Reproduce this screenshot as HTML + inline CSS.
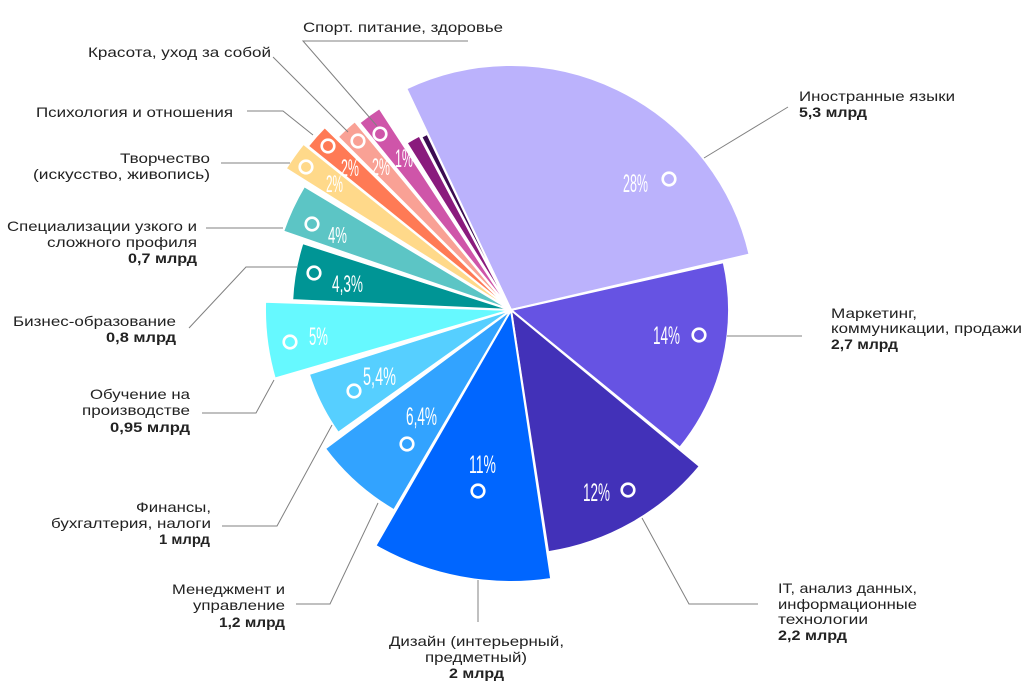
<!DOCTYPE html>
<html>
<head>
<meta charset="utf-8">
<style>
  html, body { margin: 0; padding: 0; background: #ffffff; }
  svg { display: block; }
  .lbl { font-family: "Liberation Sans", "Noto Sans CJK SC", sans-serif; font-size: 14px; fill: #222222; }
  .b { font-weight: bold; }
  .pct { font-family: "Liberation Sans", "Noto Sans CJK SC", sans-serif; font-size: 25px; fill: #ffffff; }
  .ld { stroke: #808080; stroke-width: 1; fill: none; }
  .ring { fill: none; stroke: #ffffff; stroke-width: 2.6; }
</style>
</head>
<body>
<svg width="1029" height="692" viewBox="0 0 1029 692" xmlns="http://www.w3.org/2000/svg">
  <rect width="1029" height="692" fill="#ffffff"/>

  <!-- sectors -->
  <g stroke="#ffffff" stroke-width="2" stroke-linejoin="round">
    <path d="M511,310 L406.3,88.5 A245,245 0 0 1 749.6,254.5 Z" fill="#BBB2FC"/>
    <path d="M511,310 L723.7,262.1 A218,218 0 0 1 679.9,447.8 Z" fill="#6653E3"/>
    <path d="M511,310 L699.8,466.2 A245,245 0 0 1 548.1,552.2 Z" fill="#4231B8"/>
    <path d="M511,310 L551.2,579.0 A272,272 0 0 1 375.4,545.8 Z" fill="#0066FF"/>
    <path d="M511,310 L394.0,510.3 A232,232 0 0 1 325.0,448.6 Z" fill="#32A3FF"/>
    <path d="M511,310 L338.2,432.8 A212,212 0 0 1 308.9,374.1 Z" fill="#56CFFF"/>
    <path d="M511,310 L274.8,378.6 A246,246 0 0 1 265.1,301.8 Z" fill="#66F9FF"/>
    <path d="M511,310 L292.2,300.1 A219,219 0 0 1 302.5,243.1 Z" fill="#009595"/>
    <path d="M511,310 L283.1,231.5 A241,241 0 0 1 304.2,186.2 Z" fill="#5CC5C5"/>
    <path d="M511,310 L285.7,168.6 A266,266 0 0 1 303.4,143.7 Z" fill="#FFD98A"/>
    <path d="M511,310 L307.9,146.1 A261,261 0 0 1 324.8,127.1 Z" fill="#FF7A55"/>
    <path d="M511,310 L337.8,136.8 A245,245 0 0 1 354.8,121.2 Z" fill="#F9A195"/>
    <path d="M511,310 L359.3,122.7 A241,241 0 0 1 379.4,108.1 Z" fill="#CF55A9"/>
    <path d="M511,310 L406.6,142.9 A197,197 0 0 1 419.4,135.6 Z" fill="#8A1B7D"/>
    <path d="M511,310 L421.3,136.9 A195,195 0 0 1 427.4,133.9 Z" fill="#3C0C51"/>
  </g>

  <!-- leader lines -->
  <polyline class="ld" points="788,107 704,158"/>
  <polyline class="ld" points="727,336 802,336"/>
  <polyline class="ld" points="642,518 689,604 758,604"/>
  <polyline class="ld" points="478,580 478,622"/>
  <polyline class="ld" points="378,503 330,604 296,604"/>
  <polyline class="ld" points="332,425 277,526 222,526"/>
  <polyline class="ld" points="274,380 256,413 202,413"/>
  <polyline class="ld" points="297,267 246,267 189,328"/>
  <polyline class="ld" points="206,228 283,228"/>
  <polyline class="ld" points="221,163 290,163"/>
  <polyline class="ld" points="247,111 283,111 313,135"/>
  <polyline class="ld" points="273,57 348,132"/>
  <polyline class="ld" points="468,41 303,41 377,126"/>

  <!-- rings -->
  <circle class="ring" cx="669" cy="179" r="6.3"/>
  <circle class="ring" cx="699" cy="335" r="6.3"/>
  <circle class="ring" cx="628" cy="490" r="6.3"/>
  <circle class="ring" cx="478" cy="491" r="6.3"/>
  <circle class="ring" cx="407" cy="444" r="6.3"/>
  <circle class="ring" cx="354" cy="391" r="6.3"/>
  <circle class="ring" cx="290" cy="342" r="6.3"/>
  <circle class="ring" cx="314" cy="273" r="6.3"/>
  <circle class="ring" cx="312" cy="224" r="6.3"/>
  <circle class="ring" cx="306" cy="167" r="6.3"/>
  <circle class="ring" cx="328" cy="146" r="6.3"/>
  <circle class="ring" cx="358" cy="141" r="6.3"/>
  <circle class="ring" cx="380" cy="134" r="6.3"/>

  <!-- percentages -->
  <text class="pct" x="623" y="192" textLength="25" lengthAdjust="spacingAndGlyphs">28%</text>
  <text class="pct" x="653" y="344" textLength="27" lengthAdjust="spacingAndGlyphs">14%</text>
  <text class="pct" x="583" y="501" textLength="27" lengthAdjust="spacingAndGlyphs">12%</text>
  <text class="pct" x="469" y="473" textLength="27" lengthAdjust="spacingAndGlyphs">11%</text>
  <text class="pct" x="406" y="425" textLength="31" lengthAdjust="spacingAndGlyphs">6,4%</text>
  <text class="pct" x="363" y="385" textLength="33" lengthAdjust="spacingAndGlyphs">5,4%</text>
  <text class="pct" x="309" y="345" textLength="19" lengthAdjust="spacingAndGlyphs">5%</text>
  <text class="pct" x="332" y="292" textLength="31" lengthAdjust="spacingAndGlyphs" style="font-size:24px">4,3%</text>
  <text class="pct" x="328" y="243" textLength="19" lengthAdjust="spacingAndGlyphs" style="font-size:23px">4%</text>
  <text class="pct" x="326" y="192" textLength="17" lengthAdjust="spacingAndGlyphs" style="font-size:24px">2%</text>
  <text class="pct" x="341" y="176" textLength="18" lengthAdjust="spacingAndGlyphs" style="font-size:24px">2%</text>
  <text class="pct" x="372" y="175" textLength="18" lengthAdjust="spacingAndGlyphs" style="font-size:24px">2%</text>
  <text class="pct" x="395" y="167" textLength="18" lengthAdjust="spacingAndGlyphs" style="font-size:25px">1%</text>

  <!-- left labels -->
  <text class="lbl" x="303" y="32" textLength="200" lengthAdjust="spacingAndGlyphs">Спорт. питание, здоровье</text>
  <text class="lbl" x="88" y="57" textLength="183" lengthAdjust="spacingAndGlyphs">Красота, уход за собой</text>
  <text class="lbl" x="36" y="117" textLength="197" lengthAdjust="spacingAndGlyphs">Психология и отношения</text>
  <text class="lbl" x="120" y="163" textLength="90" lengthAdjust="spacingAndGlyphs">Творчество</text>
  <text class="lbl" x="33" y="179" textLength="177" lengthAdjust="spacingAndGlyphs">(искусство, живопись)</text>
  <text class="lbl" x="7" y="231" textLength="190" lengthAdjust="spacingAndGlyphs">Специализации узкого и</text>
  <text class="lbl" x="47" y="247" textLength="150" lengthAdjust="spacingAndGlyphs">сложного профиля</text>
  <text class="lbl b" x="128" y="263" textLength="69" lengthAdjust="spacingAndGlyphs">0,7 млрд</text>
  <text class="lbl" x="13" y="326" textLength="163" lengthAdjust="spacingAndGlyphs">Бизнес-образование</text>
  <text class="lbl b" x="106" y="342" textLength="70" lengthAdjust="spacingAndGlyphs">0,8 млрд</text>
  <text class="lbl" x="90" y="399" textLength="100" lengthAdjust="spacingAndGlyphs">Обучение на</text>
  <text class="lbl" x="82" y="415" textLength="108" lengthAdjust="spacingAndGlyphs">производстве</text>
  <text class="lbl b" x="110" y="432" textLength="80" lengthAdjust="spacingAndGlyphs">0,95 млрд</text>
  <text class="lbl" x="136" y="512" textLength="75" lengthAdjust="spacingAndGlyphs">Финансы,</text>
  <text class="lbl" x="51" y="528" textLength="160" lengthAdjust="spacingAndGlyphs">бухгалтерия, налоги</text>
  <text class="lbl b" x="159" y="544" textLength="51" lengthAdjust="spacingAndGlyphs">1 млрд</text>
  <text class="lbl" x="172" y="594" textLength="113" lengthAdjust="spacingAndGlyphs">Менеджмент и</text>
  <text class="lbl" x="193" y="610" textLength="92" lengthAdjust="spacingAndGlyphs">управление</text>
  <text class="lbl b" x="219" y="627" textLength="66" lengthAdjust="spacingAndGlyphs">1,2 млрд</text>

  <!-- bottom -->
  <text class="lbl" x="389" y="646" textLength="175" lengthAdjust="spacingAndGlyphs">Дизайн (интерьерный,</text>
  <text class="lbl" x="425" y="662" textLength="102" lengthAdjust="spacingAndGlyphs">предметный)</text>
  <text class="lbl b" x="449" y="678" textLength="55" lengthAdjust="spacingAndGlyphs">2 млрд</text>

  <!-- right labels -->
  <text class="lbl" x="799" y="101" textLength="156" lengthAdjust="spacingAndGlyphs">Иностранные языки</text>
  <text class="lbl b" x="799" y="117" textLength="68" lengthAdjust="spacingAndGlyphs">5,3 млрд</text>
  <text class="lbl" x="831" y="318" textLength="86" lengthAdjust="spacingAndGlyphs">Маркетинг,</text>
  <text class="lbl" x="831" y="333" textLength="191" lengthAdjust="spacingAndGlyphs">коммуникации, продажи</text>
  <text class="lbl b" x="831" y="349" textLength="67" lengthAdjust="spacingAndGlyphs">2,7 млрд</text>
  <text class="lbl" x="778" y="593" textLength="139" lengthAdjust="spacingAndGlyphs">IT, анализ данных,</text>
  <text class="lbl" x="778" y="609" textLength="139" lengthAdjust="spacingAndGlyphs">информационные</text>
  <text class="lbl" x="778" y="624" textLength="90" lengthAdjust="spacingAndGlyphs">технологии</text>
  <text class="lbl b" x="778" y="640" textLength="69" lengthAdjust="spacingAndGlyphs">2,2 млрд</text>
</svg>
</body>
</html>
